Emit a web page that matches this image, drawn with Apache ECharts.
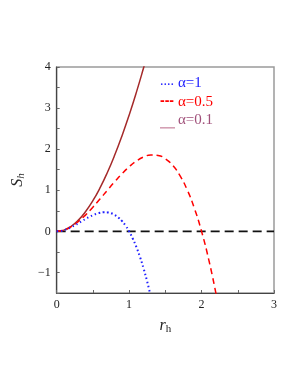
<!DOCTYPE html>
<html><head><meta charset="utf-8">
<script src="https://cdn.jsdelivr.net/npm/echarts@6/dist/echarts.min.js"></script>
<style>html,body{margin:0;padding:0;background:#fff}#c{width:298px;height:385px}</style>
</head><body><div id="c"></div>
<script>
// r_h grids and S_h values
const xBlue = [0,0.05,0.1,0.15,0.2,0.25,0.3,0.35,0.4,0.45,0.5,0.55,0.6,0.65,0.7,0.75,0.8,0.85,0.9,0.95,1.0,1.05,1.1,1.15,1.2,1.25,1.3];
const sAlpha1 = [0,0.007,0.028,0.060,0.100,0.147,0.198,0.250,0.302,0.350,0.393,0.428,0.452,0.465,0.462,0.442,0.402,0.341,0.255,0.142,0,-0.173,-0.380,-0.623,-0.905,-1.227,-1.593];
const xRed = [0,0.1,0.2,0.3,0.4,0.5,0.6,0.7,0.8,0.9,1.0,1.1,1.2,1.3,1.4,1.5,1.6,1.7,1.8,1.9,2.0,2.1,2.2];
const sAlpha05 = [0,0.030,0.113,0.240,0.402,0.589,0.792,1.001,1.206,1.400,1.571,1.711,1.810,1.858,1.847,1.767,1.609,1.362,1.018,0.567,0,-0.693,-1.521];
const xBrown = [0,0.1,0.2,0.3,0.4,0.5,0.6,0.7,0.8,0.9,1.0,1.1,1.2,1.25];
const sAlpha01 = [0,0.031,0.123,0.274,0.483,0.746,1.063,1.432,1.850,2.316,2.827,3.383,3.981,4.295];
const zeroLineX = [0,3];
const zeroLineY = [0,0];
const xTicks = [0,1,2,3];
const yTicks = [-1,0,1,2,3,4];
const legendLabels = ['α=1','α=0.5','α=0.1'];
const legendMarks = ['....','---','__'];

const pair = (xs, ys) => xs.map((x, i) => [x, ys[i]]);
const serif = 'Liberation Serif';
const chart = echarts.init(document.getElementById('c'), null, {renderer:'canvas'});
const fmt = v => {
  if (Math.abs(v - Math.round(v)) > 1e-9) return '';
  const r = Math.round(v);
  return r < 0 ? '\u2212' + (-r) : String(r);
};
chart.setOption({
  animation:false,
  backgroundColor:'#fff',
  grid:{left:54, right:24, top:67, bottom:92, show:true, borderColor:'#9a9a9a', borderWidth:1.5},
  xAxis:{type:'value', min:0, max:3, interval:0.5,
    axisLine:{show:true, onZero:false, lineStyle:{color:'#444', width:1.2}},
    axisTick:{show:true, inside:true, length:3, lineStyle:{color:'#666'}},
    axisLabel:{formatter:v => xTicks.includes(Math.round(v*1e6)/1e6) ? fmt(v) : '', fontFamily:serif, fontSize:12, color:'#222', margin:6},
    splitLine:{show:false},
    name:'{i|r}{s|h}', nameLocation:'middle', nameGap:17,
    nameTextStyle:{rich:{i:{fontFamily:serif, fontStyle:'italic', fontSize:16, color:'#222', lineHeight:18},
                         s:{fontFamily:serif, fontSize:11, color:'#222', lineHeight:18, padding:[8,0,0,0]}}}
  },
  yAxis:{type:'value', min:-1.5, max:4, interval:0.5,
    axisLine:{show:true, onZero:false, lineStyle:{color:'#444', width:1.2}},
    axisTick:{show:true, inside:true, length:3, lineStyle:{color:'#666'}},
    axisLabel:{formatter:v => yTicks.includes(Math.round(v*1e6)/1e6) ? fmt(v) : '', fontFamily:serif, fontSize:12, color:'#222', margin:6},
    splitLine:{show:false},
    name:'{i|S}{s|h}', nameLocation:'middle', nameGap:26, nameRotate:90,
    nameTextStyle:{rich:{i:{fontFamily:serif, fontStyle:'italic', fontSize:16, color:'#222', lineHeight:18},
                         s:{fontFamily:serif, fontStyle:'italic', fontSize:11, color:'#222', lineHeight:18, padding:[8,0,0,0]}}}
  },
  series:[
    {type:'line', data:pair(zeroLineX, zeroLineY), showSymbol:false, symbol:'none',
      lineStyle:{color:'#111', width:1.8, type:[9,5]}, z:1},
    {type:'line', name:'α=0.1', data:pair(xBrown, sAlpha01), smooth:true, symbol:'none',
      lineStyle:{color:'#a52a2a', width:1.5}, z:3},
    {type:'line', name:'α=0.5', data:pair(xRed, sAlpha05), smooth:true, symbol:'none',
      lineStyle:{color:'#ff0000', width:1.5, type:[6,4]}, z:4},
    {type:'line', name:'α=1', data:pair(xBlue, sAlpha1), smooth:true, symbol:'none',
      lineStyle:{color:'#2020ff', width:2, type:[1.6,2.6]}, z:5}
  ],
  graphic:[
    {type:'text', left:160, top:74, style:{text:legendMarks[0], fill:'#2020ff', font:'14px "Liberation Serif"'}},
    {type:'text', left:178, top:76, style:{text:legendLabels[0], fill:'#2020ff', font:'15px "Liberation Serif"'}},
    {type:'text', left:160, top:94, style:{text:legendMarks[1], fill:'#ff0000', font:'bold 14px "Liberation Sans"'}},
    {type:'text', left:178, top:95, style:{text:legendLabels[1], fill:'#ff0000', font:'15px "Liberation Serif"'}},
    {type:'rect', left:160, top:127, shape:{width:15, height:1.6}, style:{fill:'#d4a0b4'}},
    {type:'text', left:178, top:113, style:{text:legendLabels[2], fill:'#a0507a', font:'15px "Liberation Serif"'}}
  ]
});
</script></body></html>
